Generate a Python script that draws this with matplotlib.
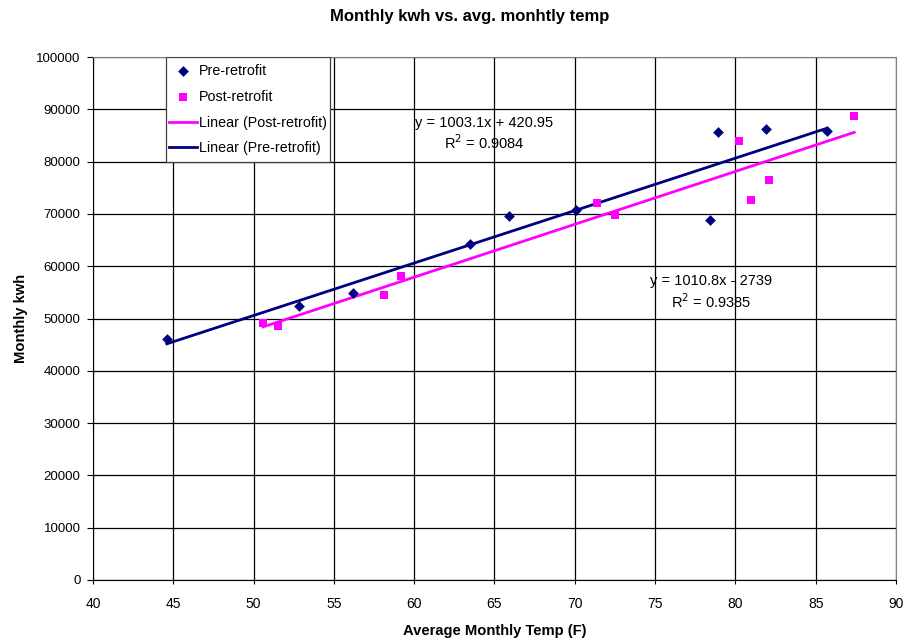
import matplotlib
matplotlib.use("Agg")
import matplotlib.pyplot as plt
from matplotlib.patches import Rectangle
import numpy as np

plt.rcParams['font.family'] = ['Liberation Sans', 'DejaVu Sans']

pre_x = [44.6, 52.8, 56.2, 63.5, 65.9, 70.1, 78.4, 78.9, 81.9, 85.7]
pre_y = [46100, 52400, 54900, 64200, 69600, 70700, 68800, 85600, 86200, 85900]
post_x = [50.6, 51.5, 58.1, 59.2, 71.4, 72.5, 80.2, 81.0, 82.1, 87.4]
post_y = [49100, 48600, 54500, 58100, 72100, 69800, 84000, 72600, 76500, 88800]

pre_slope, pre_icpt = 1003.1, 420.95
post_slope, post_icpt = 1010.8, -2739

navy = '#000080'
magenta = '#FF00FF'

fig = plt.figure(figsize=(9.07, 6.41), dpi=100)
ax = fig.add_axes([0.1025, 0.0952, 0.8854, 0.8158])

ax.scatter(pre_x, pre_y, marker='D', s=30, color=navy, zorder=3, label='Pre-retrofit', linewidths=0)
ax.scatter(post_x, post_y, marker='s', s=36, color=magenta, zorder=3, label='Post-retrofit', linewidths=0)

px = np.array([min(post_x), max(post_x)])
ax.plot(px, post_slope * px + post_icpt, color=magenta, lw=2, zorder=2, label='Linear (Post-retrofit)')
qx = np.array([min(pre_x), max(pre_x)])
ax.plot(qx, pre_slope * qx + pre_icpt, color=navy, lw=2, zorder=2, label='Linear (Pre-retrofit)')

ax.set_xlim(40, 90)
ax.set_ylim(0, 100000)
ax.set_xticks(np.arange(40, 91, 5))
ax.set_yticks(np.arange(0, 100001, 10000))
ax.grid(True, color='black', lw=0.9)
ax.set_axisbelow(True)
for s in ['top', 'right']:
    ax.spines[s].set_color('#808080')
for s in ['left', 'bottom']:
    ax.spines[s].set_color('black')
ax.tick_params(axis='y', labelsize=9.5, direction='out', length=4, width=0.8, pad=5)
ax.tick_params(axis='x', labelsize=10, direction='out', length=3, width=0.8, pad=9)

fig.text(0.518, 0.974, 'Monthly kwh vs. avg. monhtly temp', fontsize=12, fontweight='bold',
         ha='center', va='center')
ax.set_xlabel('Average Monthly Temp (F)', fontsize=10.6, fontweight='bold', labelpad=9.5)
ax.set_ylabel('Monthly kwh', fontsize=10.6, fontweight='bold', labelpad=6)

# legend box frame
ax.add_patch(Rectangle((0.0909, 0.7992), 0.2042, 0.2008, transform=ax.transAxes,
                       facecolor='white', edgecolor='#404040', lw=0.9, zorder=5))
leg = ax.legend(loc='upper left', bbox_to_anchor=(0.0905, 0.992), fontsize=10.3, frameon=False,
                borderpad=0.2, labelspacing=0.82,
                handlelength=2.0, handletextpad=0.15, borderaxespad=0)
leg.set_zorder(6)

ax.text(64.35, 85300, 'y = 1003.1x + 420.95\nR$^2$ = 0.9084', ha='center', va='center',
        fontsize=10.5, linespacing=1.25, zorder=4)
ax.text(78.5, 55000, 'y = 1010.8x - 2739\nR$^2$ = 0.9385', ha='center', va='center',
        fontsize=10.5, linespacing=1.25, zorder=4)

fig.savefig('out.png', dpi=100)
